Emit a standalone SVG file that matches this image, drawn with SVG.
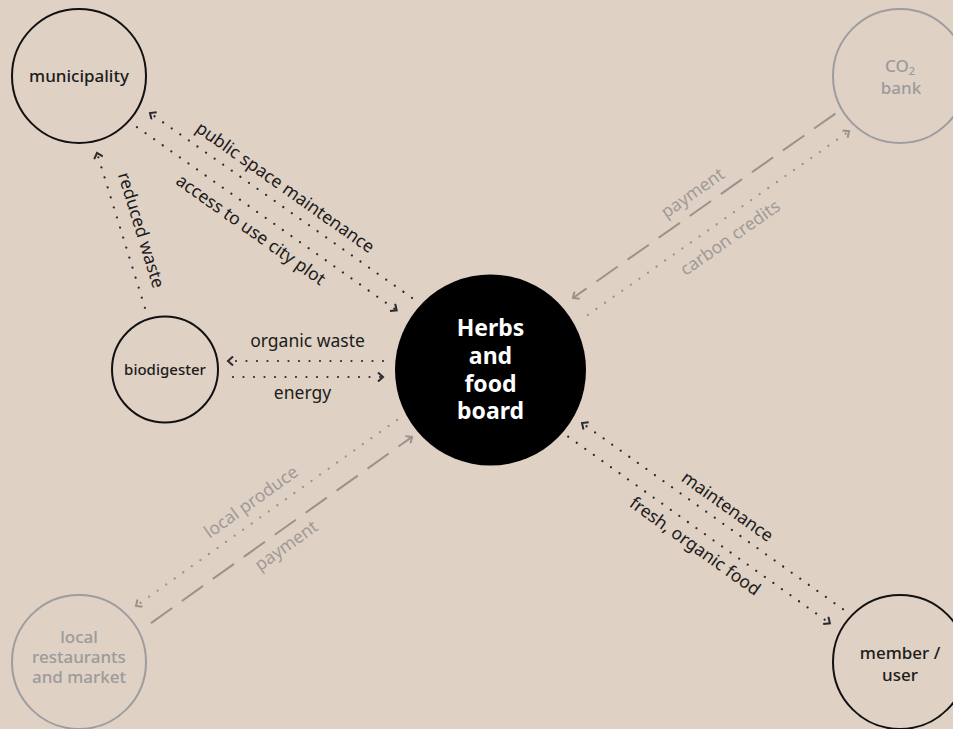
<svg xmlns="http://www.w3.org/2000/svg" width="953" height="729" viewBox="0 0 953 729">
  <style>
    text { font-family: "Noto Sans", "Liberation Sans", sans-serif; }
    .node { fill: none; stroke-width: 2; }
    .dark { stroke: #111; }
    .grey { stroke: #9d9d9d; }
    .name { font-size: 17px; font-weight: 500; fill: #1c1c1c; text-anchor: middle; }
    .name.muted { fill: #9b9b9b; }
    .hub { font-size: 23px; font-weight: 700; fill: #fff; text-anchor: middle; }
    .lbl { font-size: 17.5px; fill: #1c1c1c; text-anchor: middle; }
    .lbl.muted { fill: #a09b97; }
    .dots { fill: none; stroke: #2a2a2a; stroke-width: 2.2; stroke-linecap: round; stroke-dasharray: 0 10.5; }
    .dots.muted { stroke: #9a928c; }
    .dash { fill: none; stroke: #9a928c; stroke-width: 2; stroke-dasharray: 26 12; }
    .tip-dark { marker-end: url(#chev-dark); }
    .tip-grey { marker-end: url(#chev-grey); }
  </style>
  <defs>
    <marker id="chev-dark" viewBox="0 0 10 10" refX="7" refY="5" markerWidth="10" markerHeight="10" markerUnits="userSpaceOnUse" orient="auto">
      <path d="M2,0.5 L7,5 L2,9.5" fill="none" stroke="#2a2a2a" stroke-width="2" stroke-linecap="butt"/>
    </marker>
    <marker id="chev-grey" viewBox="0 0 10 10" refX="7" refY="5" markerWidth="10" markerHeight="10" markerUnits="userSpaceOnUse" orient="auto">
      <path d="M2,0.5 L7,5 L2,9.5" fill="none" stroke="#9a928c" stroke-width="2" stroke-linecap="butt"/>
    </marker>
  </defs>

  <rect width="953" height="729" fill="#dfd1c4"/>

  <g id="connectors">
    <!-- municipality <-> board -->
    <g transform="translate(150,113) rotate(35.2)">
      <line class="dots tip-dark" x1="320.6" y1="0" x2="0" y2="0"/>
      <line class="dots tip-dark" x1="-2.5" y1="19" x2="315.3" y2="19"/>
      <text class="lbl" x="153.3" y="-11.2">public space maintenance</text>
      <text class="lbl" x="149.7" y="43.2">access to use city plot</text>
    </g>
    <!-- biodigester -> municipality -->
    <g transform="translate(97,153) rotate(72.8)">
      <line class="dots tip-dark" x1="162" y1="0" x2="0" y2="0"/>
      <text class="lbl" x="86.7" y="-13.5">reduced waste</text>
    </g>
    <!-- biodigester <-> board -->
    <line class="dots tip-dark" x1="383" y1="361" x2="228" y2="361"/>
    <line class="dots tip-dark" x1="233" y1="377" x2="383" y2="377"/>
    <text class="lbl" x="307.5" y="347">organic waste</text>
    <text class="lbl" x="302.5" y="399">energy</text>
    <!-- CO2 bank <-> board -->
    <g transform="translate(573,298) rotate(-35.1)">
      <line class="dash tip-grey" x1="320.7" y1="0" x2="0" y2="0"/>
      <line class="dots muted tip-grey" x1="2.5" y1="22.3" x2="321.8" y2="22.3"/>
      <text class="lbl muted" x="158.2" y="-11.2">payment</text>
      <text class="lbl muted" x="163.2" y="47">carbon credits</text>
    </g>
    <!-- local restaurants <-> board -->
    <g transform="translate(136,606) rotate(-35.5)">
      <line class="dots muted tip-grey" x1="320.6" y1="0" x2="0" y2="0"/>
      <line class="dash tip-grey" x1="2.3" y1="22.6" x2="322.9" y2="22.6"/>
      <text class="lbl muted" x="154.2" y="-12">local produce</text>
      <text class="lbl muted" x="157.3" y="43.9">payment</text>
    </g>
    <!-- member <-> board -->
    <g transform="translate(582,423) rotate(35.5)">
      <line class="dots tip-dark" x1="320.6" y1="0" x2="0" y2="0"/>
      <line class="dots tip-dark" x1="-3.3" y1="19.1" x2="318.1" y2="19.1"/>
      <text class="lbl" x="166.9" y="-10.5">maintenance</text>
      <text class="lbl" x="163.5" y="40.6">fresh, organic food</text>
    </g>
  </g>

  <g id="municipality">
    <circle class="node dark" cx="79" cy="76" r="67"/>
    <text class="name" x="79" y="82">municipality</text>
  </g>
  <g id="co2-bank">
    <circle class="node grey" cx="900" cy="76" r="67"/>
    <text class="name muted" x="900" y="72">CO<tspan font-size="11" dy="3">2</tspan></text>
    <text class="name muted" x="901" y="94">bank</text>
  </g>
  <g id="biodigester">
    <circle class="node dark" cx="165" cy="369.5" r="53"/>
    <text class="name" x="165" y="375" style="font-size:15px">biodigester</text>
  </g>
  <g id="board">
    <circle cx="490.5" cy="370" r="95.5" fill="#000"/>
    <text class="hub" x="490.5" y="336">Herbs</text>
    <text class="hub" x="490.5" y="364">and</text>
    <text class="hub" x="490.5" y="392">food</text>
    <text class="hub" x="490.5" y="419">board</text>
  </g>
  <g id="local-restaurants">
    <circle class="node grey" cx="79" cy="662" r="67"/>
    <text class="name muted" x="79" y="643">local</text>
    <text class="name muted" x="79" y="663">restaurants</text>
    <text class="name muted" x="79" y="683">and market</text>
  </g>
  <g id="member">
    <circle class="node dark" cx="900" cy="662" r="67"/>
    <text class="name" x="900" y="659">member /</text>
    <text class="name" x="900" y="681">user</text>
  </g>
</svg>
